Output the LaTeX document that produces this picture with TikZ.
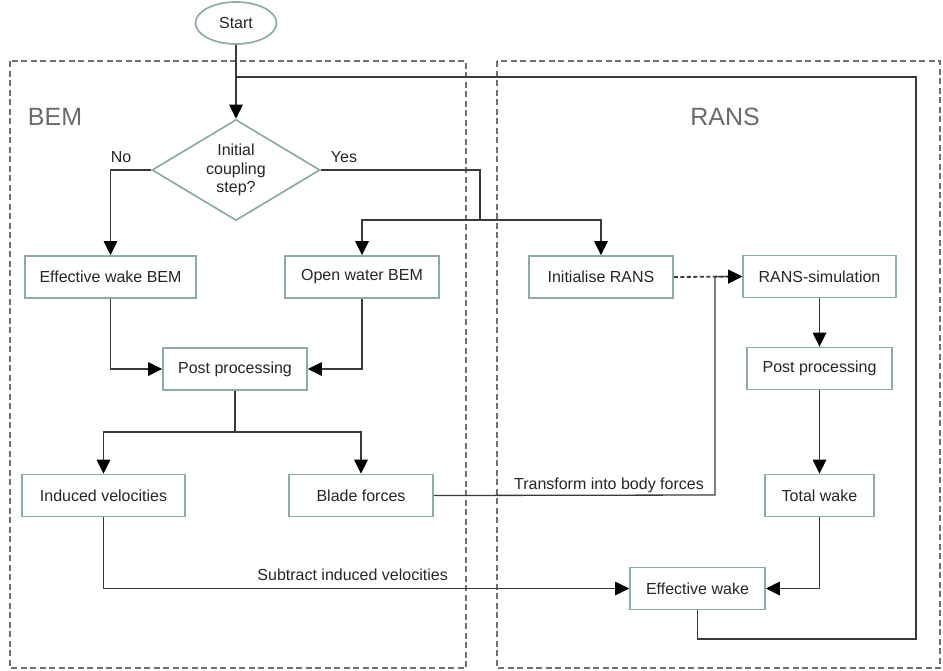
\documentclass[tikz,border=0pt]{standalone}
\usepackage{fontspec}
\setmainfont{Liberation Sans}
\usetikzlibrary{shapes, shapes.geometric, arrows.meta}

\definecolor{boxline}{HTML}{8EAAAA}
\definecolor{wire}{HTML}{3A3A3A}
\definecolor{frameline}{HTML}{707070}
\definecolor{inktext}{HTML}{262626}
\definecolor{grouptext}{HTML}{6A6A6A}

\tikzset{
  process/.style={draw=boxline, line width=1.7pt, fill=white, text=inktext,
                  minimum height=42pt, inner sep=0pt},
  terminal/.style={process, ellipse, minimum width=81pt},
  decision/.style={process, diamond, aspect=1.68, minimum width=168pt,
                   minimum height=101pt, align=center},
  wireline/.style={draw=wire, line width=1.3pt},
  flow/.style={wireline, -{Triangle[length=14pt, width=13.5pt, color=black]}},
  groupframe/.style={draw=frameline, line width=1.3pt, dash pattern=on 6pt off 3.5pt},
  grouplabel/.style={text=grouptext, font=\fontsize{25pt}{28pt}\selectfont},
  wirelabel/.style={text=inktext, inner sep=0pt}
}

\begin{document}
\begin{tikzpicture}[x=1pt, y=-1pt, font=\fontsize{16pt}{18.5pt}\selectfont]
    \useasboundingbox (0, 0) rectangle (943, 670);
    % the two groups
    \draw[groupframe] (10, 61) rectangle (466, 668);
    \draw[groupframe] (497, 61) rectangle (940, 668);
    \node[grouplabel] (bemlabel) at (55, 117) {BEM};
    \node[grouplabel] (ranslabel) at (725, 117) {RANS};

    \node[terminal] (start) at (236, 23) {Start};
    \node[decision] (init) at (236, 170) {Initial\\coupling\\step?};

    \node[process, minimum width=171pt] (ewbem) at (110.5, 277) {Effective wake BEM};
    \node[process, minimum width=154pt] (owbem) at (362, 277) {Open water BEM};
    \node[process, minimum width=144pt] (initrans) at (601, 277) {Initialise RANS};
    \node[process, minimum width=153pt] (ranssim) at (819.5, 276.5) {RANS-simulation};
    \node[process, minimum width=144pt] (ppbem) at (235, 369) {Post processing};
    \node[process, minimum width=145pt] (pprans) at (819.5, 368.5) {Post processing};
    \node[process, minimum width=163pt] (indvel) at (103.5, 495.5) {Induced velocities};
    \node[process, minimum width=144pt] (blade) at (361, 495.5) {Blade forces};
    \node[process, minimum width=109pt] (totwake) at (819.5, 495.5) {Total wake};
    \node[process, minimum width=135pt] (effwake) at (697.5, 588.5) {Effective wake};

    \node[wirelabel] (nolabel) at (121, 157) {No};
    \node[wirelabel] (yeslabel) at (344, 157) {Yes};
    \node[wirelabel, anchor=base east] (bodylabel) at (704, 489) {Transform into body forces};
    \node[wirelabel, anchor=base east] (sublabel) at (448, 580) {Subtract induced velocities};

    \coordinate (yesturn) at (480, 170);
    \coordinate (yessplit) at (480, 220);
    \coordinate (ppsplit) at (235, 432);
    \coordinate (bodyturn) at (715, 495);
    \coordinate (loopcorner) at (916, 639);
    \coordinate (looptop) at (916, 77);

    % loop back to the start
    \draw[wireline] (effwake.south) |- (loopcorner) -- (looptop) -- (start.south |- looptop);
    \draw[flow] (start) -- (init);

    \draw[flow] (init.west) -| (ewbem.north);
    \draw[wireline] (init.east) -- (yesturn) -- (yessplit);
    \draw[flow] (yessplit) -| (owbem.north);
    \draw[flow] (yessplit) -| (initrans.north);

    \draw[flow] (ewbem.south) |- (ppbem.west);
    \draw[flow] (owbem.south) |- (ppbem.east);
    \draw[wireline] (ppbem.south) -- (ppsplit);
    \draw[flow] (ppsplit) -| (indvel.north);
    \draw[flow] (ppsplit) -| (blade.north);

    \draw[flow, line width=1.8pt, dash pattern=on 4pt off 2.5pt] (initrans.east) -- (ranssim.west);
    \draw[flow] (blade.east) -- (bodyturn) |- (ranssim.west);
    \draw[flow] (ranssim) -- (pprans);
    \draw[flow] (pprans) -- (totwake);
    \draw[flow] (totwake.south) |- (effwake.east);
    \draw[flow] (indvel.south) |- (effwake.west);
\end{tikzpicture}
\end{document}
